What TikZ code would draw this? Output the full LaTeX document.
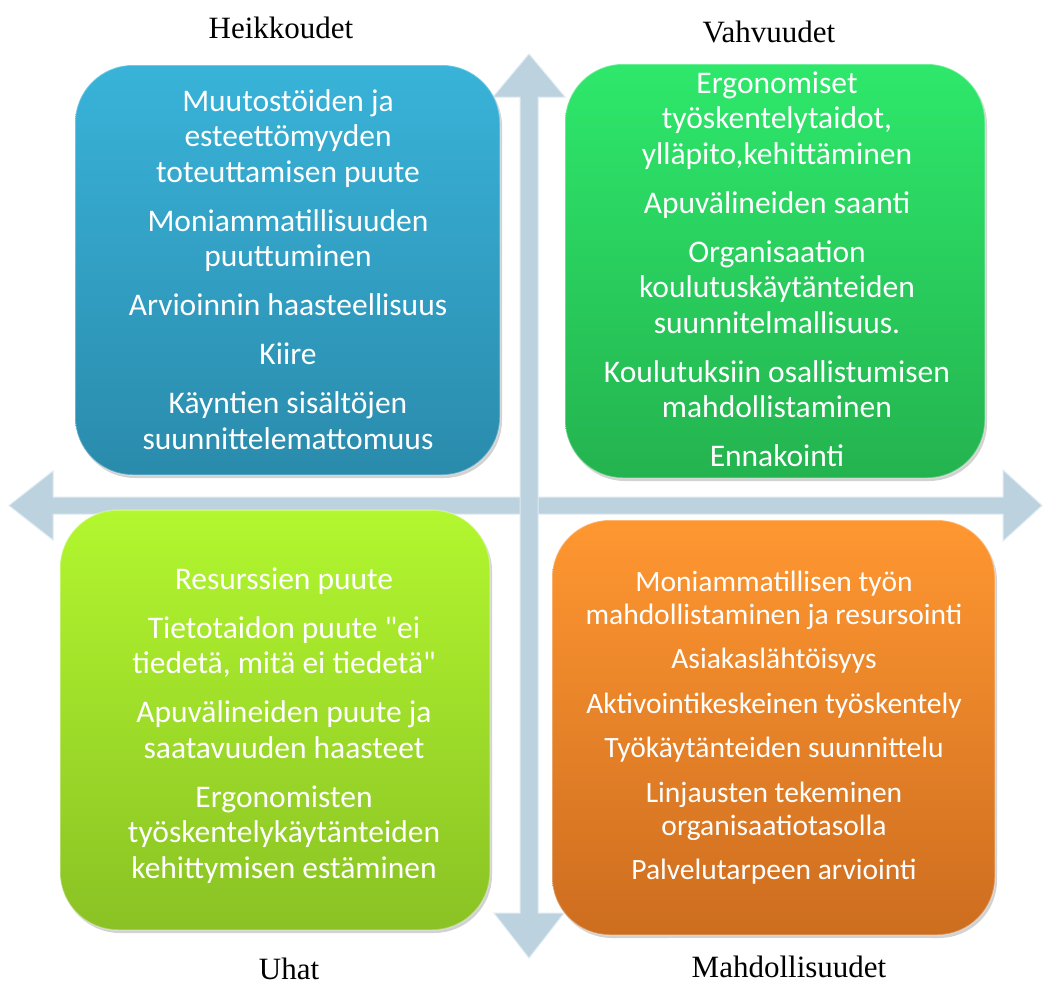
\documentclass[tikz,border=0pt]{standalone}
\usepackage{fontspec}
\newfontfamily\boxfont{Carlito}
\newfontfamily\hdfont{Liberation Serif}
\usetikzlibrary{shadows}
\definecolor{arrowfill}{HTML}{BCD2DE}
\definecolor{arrowedge}{HTML}{DDEBF2}
\definecolor{blueT}{HTML}{39B3D9}
\definecolor{blueB}{HTML}{2A8BAC}
\definecolor{greenT}{HTML}{2EE86B}
\definecolor{greenB}{HTML}{24B34F}
\definecolor{limeT}{HTML}{B2F72F}
\definecolor{limeB}{HTML}{8AC224}
\definecolor{orangeT}{HTML}{FF9731}
\definecolor{orangeB}{HTML}{CD6D1F}
\tikzset{
  arrowshape/.style={fill=arrowfill, draw=arrowedge, line width=1pt, line join=miter},
  qbox/.style={rounded corners=58pt, draw=white, draw opacity=0.3, line width=1.5pt,
    drop shadow={shadow xshift=2pt, shadow yshift=-3pt, opacity=0.35}},
  txt/.style={text=white, align=center, inner sep=0pt, anchor=north,
    font=\boxfont\fontsize{31.5}{35.5}\selectfont},
  txtsmall/.style={txt, font=\boxfont\fontsize{29.5}{33}\selectfont},
  hd/.style={anchor=base, inner sep=0pt, font=\hdfont\fontsize{31}{36}\selectfont}
}
\begin{document}
\begin{tikzpicture}[x=1pt,y=-1pt]
\useasboundingbox (0,0) rectangle (1043,985);
\fill[white] (0,0) rectangle (1043,985);

% axes arrows
\path[arrowshape] (9,505.5) -- (53,471) -- (53,497) -- (1003,497) -- (1003,470)
  -- (1042,505.5) -- (1003,541) -- (1003,514) -- (53,514) -- (53,540) -- cycle;
\path[arrowshape] (529,54) -- (565,97) -- (538,97) -- (538,913) -- (564,913)
  -- (529,958) -- (494,913) -- (520,913) -- (520,97) -- (493,97) -- cycle;

% quadrant boxes
\path[qbox, top color=blueT, bottom color=blueB] (75,65) rectangle (500,475);
\path[qbox, top color=greenT, bottom color=greenB] (565,64) rectangle (985,478);
\path[qbox, top color=limeT, bottom color=limeB] (60,510) rectangle (490,930);
\path[qbox, top color=orangeT, bottom color=orangeB] (552,520) rectangle (995,935);

% texts
\node[txt] (heik) at (288,81) {\rule{0pt}{30pt}Muutostöiden ja\\esteettömyyden\\toteuttamisen puute\\[13.5pt]Moniammatillisuuden\\puuttuminen\\[13.5pt]Arvioinnin haasteellisuus\\[13.5pt]Kiire\\[13.5pt]Käyntien sisältöjen\\suunnittelemattomuus};

\node[txt] (vahv) at (777,63) {\rule{0pt}{30pt}Ergonomiset\\työskentelytaidot,\\ylläpito,kehittäminen\\[13.5pt]Apuvälineiden saanti\\[13.5pt]Organisaation\\koulutuskäytänteiden\\suunnitelmallisuus.\\[13.5pt]Koulutuksiin osallistumisen\\mahdollistaminen\\[13.5pt]Ennakointi};

\node[txt] (uhat) at (284,559) {\rule{0pt}{30pt}Resurssien puute\\[13.5pt]Tietotaidon puute "ei\\tiedetä, mitä ei tiedetä"\\[13.5pt]Apuvälineiden puute ja\\saatavuuden haasteet\\[13.5pt]Ergonomisten\\työskentelykäytänteiden\\kehittymisen estäminen};

\node[txtsmall] (mahd) at (774,561) {\rule{0pt}{30pt}Moniammatillisen työn\\mahdollistaminen ja resursointi\\[11.5pt]Asiakaslähtöisyys\\[11.5pt]Aktivointikeskeinen työskentely\\[11.5pt]Työkäytänteiden suunnittelu\\[11.5pt]Linjausten tekeminen\\organisaatiotasolla\\[11.5pt]Palvelutarpeen arviointi};

% headings
\fill[white] (668,938) rectangle (931,985);
\node[hd] (lh) at (281,38) {Heikkoudet};
\node[hd] (lv) at (769,42) {Vahvuudet};
\node[hd] (lu) at (289,979) {Uhat};
\node[hd] (lm) at (789,977) {Mahdollisuudet};
\end{tikzpicture}
\end{document}
